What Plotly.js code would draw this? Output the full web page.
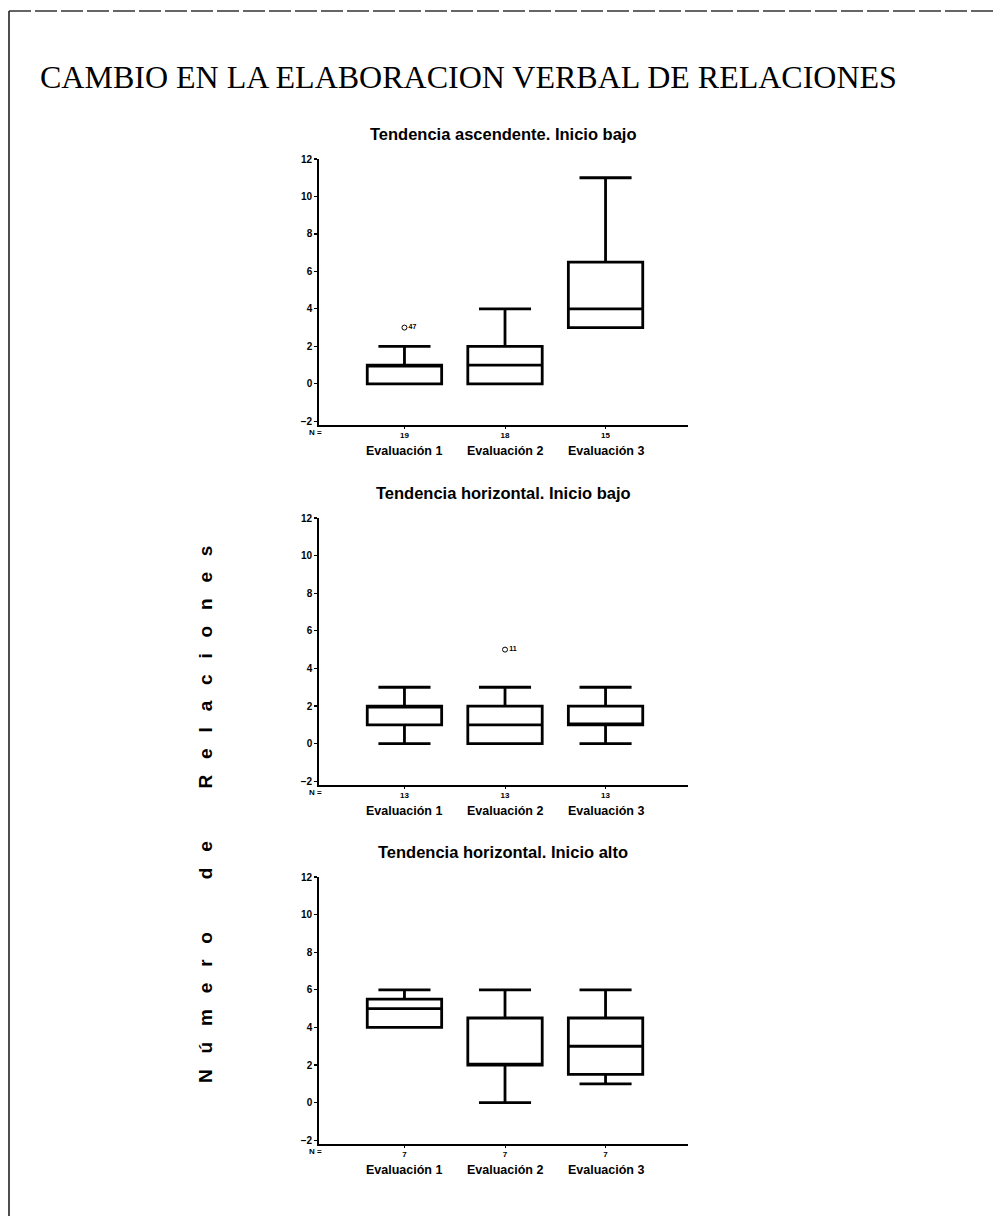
<!DOCTYPE html>
<html>
<head>
<meta charset="utf-8">
<script src="https://cdn.plot.ly/plotly-3.0.1.min.js"></script>
<style>html,body{margin:0;padding:0;background:#fff;}</style>
</head>
<body>
<div id="chart" style="width:997px;height:1216px;"></div>
<script>
// ---- data ----
const categories = ['Evaluación 1', 'Evaluación 2', 'Evaluación 3'];

const panelTitles = ['Tendencia ascendente. Inicio bajo',
                     'Tendencia horizontal. Inicio bajo',
                     'Tendencia horizontal. Inicio alto'];

// Panel 1: Tendencia ascendente, inicio bajo
const asc_q1     = [0, 0, 3];
const asc_median = [1, 1, 4];
const asc_q3     = [1, 2, 6.5];
const asc_lower  = [0, 0, 3];
const asc_upper  = [2, 4, 11];
const asc_n      = ['19', '18', '15'];
const asc_outX   = ['Evaluación 1'];
const asc_outY   = [3];
const asc_outLbl = ['47'];

// Panel 2: Tendencia horizontal, inicio bajo
const hb_q1     = [1, 0, 1];
const hb_median = [2, 1, 1];
const hb_q3     = [2, 2, 2];
const hb_lower  = [0, 0, 0];
const hb_upper  = [3, 3, 3];
const hb_n      = ['13', '13', '13'];
const hb_outX   = ['Evaluación 2'];
const hb_outY   = [5];
const hb_outLbl = ['11'];

// Panel 3: Tendencia horizontal, inicio alto
const ha_q1     = [4, 2, 1.5];
const ha_median = [5, 2, 3];
const ha_q3     = [5.5, 4.5, 4.5];
const ha_lower  = [4, 0, 1];
const ha_upper  = [6, 6, 6];
const ha_n      = ['7', '7', '7'];

const yTicks = [-2, 0, 2, 4, 6, 8, 10, 12];

// ---- layout helpers ----
const W = 997, H = 1216;
const px = p => p / W;
const py = p => 1 - p / H;
const FONT = 'Liberation Sans, Arial, sans-serif';

const xDomPx = [319, 688];
const yTopPx = [159, 518, 877];
const yBotPx = [425, 785, 1144];

const panels = [
  {q1: asc_q1, median: asc_median, q3: asc_q3, lo: asc_lower, up: asc_upper, n: asc_n,
   outX: asc_outX, outY: asc_outY, outL: asc_outLbl},
  {q1: hb_q1, median: hb_median, q3: hb_q3, lo: hb_lower, up: hb_upper, n: hb_n,
   outX: hb_outX, outY: hb_outY, outL: hb_outLbl},
  {q1: ha_q1, median: ha_median, q3: ha_q3, lo: ha_lower, up: ha_upper, n: ha_n,
   outX: [], outY: [], outL: []}
];

const data = [];
const layout = {
  width: W, height: H,
  margin: {l: 0, r: 0, t: 0, b: 0},
  paper_bgcolor: '#fff', plot_bgcolor: '#fff',
  showlegend: false,
  font: {family: FONT, color: '#000'},
  annotations: [],
  shapes: []
};

panels.forEach((p, i) => {
  const sfx = i === 0 ? '' : String(i + 1);
  const xa = 'x' + sfx, ya = 'y' + sfx;
  data.push({
    type: 'box', orientation: 'v',
    x: categories, q1: p.q1, median: p.median, q3: p.q3,
    lowerfence: p.lo, upperfence: p.up,
    boxpoints: false, width: 0.74, whiskerwidth: 0.7,
    fillcolor: '#fff', line: {color: '#000', width: 2.8},
    xaxis: xa, yaxis: ya, hoverinfo: 'skip'
  });
  if (p.outX.length) {
    data.push({
      type: 'scatter', mode: 'markers+text',
      x: p.outX, y: p.outY, text: p.outL,
      textposition: 'middle right',
      textfont: {family: FONT, size: 7, color: '#000', weight: 'bold'},
      marker: {symbol: 'circle-open', size: 5, color: '#000', line: {width: 1}},
      xaxis: xa, yaxis: ya, cliponaxis: false, hoverinfo: 'skip'
    });
  }
  layout['xaxis' + sfx] = {
    domain: [px(xDomPx[0]), px(xDomPx[1])],
    anchor: ya, type: 'category',
    range: [-0.85, 2.82],
    tickvals: categories, ticktext: p.n,
    ticks: 'outside', ticklen: 2, tickwidth: 1, tickcolor: '#000',
    tickfont: {family: FONT, size: 8, color: '#000', weight: 'bold'},
    showline: true, linecolor: '#000', linewidth: 1.6,
    showgrid: false, zeroline: false, fixedrange: true
  };
  layout['yaxis' + sfx] = {
    domain: [py(yBotPx[i]), py(yTopPx[i])],
    anchor: xa, range: [-2.2, 12],
    tickvals: yTicks,
    ticks: 'outside', ticklen: 3, tickwidth: 1.2, tickcolor: '#000',
    tickfont: {family: FONT, size: 10, color: '#000', weight: 'bold'},
    showline: true, linecolor: '#000', linewidth: 1.8,
    showgrid: false, zeroline: false, fixedrange: true
  };
  // panel title
  layout.annotations.push({
    text: panelTitles[i], xref: 'paper', yref: 'paper',
    x: px((xDomPx[0] + xDomPx[1]) / 2), y: py(yTopPx[i] - 25),
    xanchor: 'center', yanchor: 'middle', showarrow: false,
    font: {family: FONT, size: 16.5, color: '#000', weight: 'bold'}
  });
  // N =
  layout.annotations.push({
    text: 'N =', xref: 'paper', yref: 'paper',
    x: px(315), y: py(yBotPx[i] + 7),
    xanchor: 'center', yanchor: 'middle', showarrow: false,
    font: {family: FONT, size: 8, color: '#000', weight: 'bold'}
  });
  // category labels
  categories.forEach(c => {
    layout.annotations.push({
      text: c, xref: xa, yref: 'paper',
      x: c, y: py(yBotPx[i] + 26),
      xanchor: 'center', yanchor: 'middle', showarrow: false,
      font: {family: FONT, size: 12.5, color: '#000', weight: 'bold'}
    });
  });
});

// main title
layout.annotations.push({
  text: 'CAMBIO EN LA ELABORACION VERBAL DE RELACIONES',
  xref: 'paper', yref: 'paper', x: px(38), y: py(77),
  xanchor: 'left', yanchor: 'middle', showarrow: false,
  font: {family: 'Liberation Serif, Times New Roman, serif', size: 32, color: '#000'}
});

// spaced vertical y title
const nb = '\u00A0';
const sp3 = nb.repeat(3), sp10 = nb.repeat(10);
const yTitle = ['Número', 'de', 'Relaciones']
  .map(w => w.split('').join(sp3)).join(sp10);
layout.annotations.push({
  text: yTitle, xref: 'paper', yref: 'paper',
  x: px(205), y: py(815), textangle: -90,
  xanchor: 'center', yanchor: 'middle', showarrow: false,
  font: {family: FONT, size: 19, color: '#000', weight: 'bold'}
});

// page frame
layout.shapes.push({
  type: 'line', xref: 'paper', yref: 'paper',
  x0: px(9), x1: 1, y0: py(11), y1: py(11),
  line: {color: '#333', width: 1.5, dash: '22px,4px'}
});
layout.shapes.push({
  type: 'line', xref: 'paper', yref: 'paper',
  x0: px(9), x1: px(9), y0: py(11), y1: 0,
  line: {color: '#222', width: 1.6}
});

Plotly.newPlot('chart', data, layout, {staticPlot: true, displayModeBar: false});
</script>
</body>
</html>
